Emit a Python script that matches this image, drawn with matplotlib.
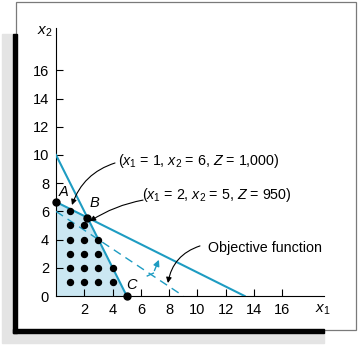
import numpy as np
import matplotlib
matplotlib.use("Agg")
import matplotlib.pyplot as plt
from matplotlib.patches import Rectangle

plt.rcParams['font.family'] = ['Liberation Sans', 'DejaVu Sans']
plt.rcParams['mathtext.fontset'] = 'custom'
plt.rcParams['mathtext.rm'] = 'Liberation Sans'
plt.rcParams['mathtext.it'] = 'Liberation Sans:italic'

# constraint lines: 2x1 + x2 = 10 and x1 + 2x2 = 13.33
c1_x = [0, 5]
c1_y = [10, 0]
c2_x = [0, 13.33]
c2_y = [6.67, 0]
# objective function Z = 100x1 + 150x2 at Z = 900
obj_x = [0, 9]
obj_y = [6, 0]
# feasible region corners
region_x = [0, 0, 2.22, 5]
region_y = [0, 6.67, 5.56, 0]
# integer solution points
pts_x = [1, 1, 1, 1, 1, 1, 2, 2, 2, 2, 2, 3, 3, 3, 3, 4, 4]
pts_y = [1, 2, 3, 4, 5, 6, 1, 2, 3, 4, 5, 1, 2, 3, 4, 1, 2]
# corner points A, B, C
corner_x = [0, 2.22, 5]
corner_y = [6.67, 5.56, 0]
ticks = [2, 4, 6, 8, 10, 12, 14, 16]

blue = '#1e9cc2'
W, H = 360, 347
fig = plt.figure(figsize=(W / 100, H / 100), dpi=100)

def frect(x0, y0, x1, y1, **kw):
    # rectangle given in pixel coords measured from the top left
    fig.patches.append(Rectangle((x0 / W, 1 - y1 / H), (x1 - x0) / W, (y1 - y0) / H,
                                 transform=fig.transFigure, **kw))

frect(2, 34, 324, 343, color='#e4e4e4', zorder=0)
frect(16, 2, 356, 330, facecolor='white', edgecolor='#7a7a7a', lw=0.9, zorder=1)
frect(13, 34, 17, 333, color='black', zorder=2)
frect(13, 329, 324, 333, color='black', zorder=2)

ax = fig.add_axes([56 / W, 1 - 296 / H, (324 - 56) / W, (296 - 28) / H])
ax.set_zorder(5)
ax.patch.set_alpha(0)
ax.set_xlim(0, 18.94)
ax.set_ylim(0, 19.0)
for s in ['top', 'right']:
    ax.spines[s].set_visible(False)
for s in ['left', 'bottom']:
    ax.spines[s].set_linewidth(0.8)

ax.set_xticks(ticks)
ax.set_yticks([0] + ticks)
ax.tick_params(direction='in', length=5, width=0.8, labelsize=10.5, pad=5)
ax.yaxis.get_major_ticks()[0].tick1line.set_visible(False)

ax.fill(region_x, region_y, color='#cbe7f2', lw=0, zorder=1)
ax.plot(c1_x, c1_y, color=blue, lw=1.5, zorder=3)
ax.plot(c2_x, c2_y, color=blue, lw=1.5, zorder=3)
ax.plot(obj_x, obj_y, color=blue, lw=1.0, dashes=(6, 4), zorder=3)

ax.plot(pts_x, pts_y, 'o', color='black', ms=4.3, zorder=4)
ax.plot(corner_x, corner_y, 'o', color='black', ms=5, zorder=5, clip_on=False)

# direction of increasing Z
ax.plot([6.45, 6.88], [1.42, 1.62], color=blue, lw=1.0, zorder=3)
ax.annotate('', xy=(7.35, 2.75), xytext=(6.88, 1.62),
            arrowprops=dict(arrowstyle='-|>', color=blue, lw=1.0, mutation_scale=9))

ax.text(0.57, 7.38, 'A', fontsize=10.5, style='italic', ha='center', va='center')
ax.text(2.69, 6.6, 'B', fontsize=10.5, style='italic', ha='center', va='center')
ax.text(5.34, 0.78, 'C', fontsize=10.5, style='italic', ha='center', va='center')

ax.text(4.38, 9.57, '($x_1$ = 1, $x_2$ = 6, $Z$ = 1,000)', fontsize=10.3, va='center')
ax.text(6.08, 7.16, '($x_1$ = 2, $x_2$ = 5, $Z$ = 950)', fontsize=10.3, va='center')
ax.text(10.74, 3.4, 'Objective function', fontsize=10.3, va='center')

arrow = dict(arrowstyle='-|>', color='black', lw=0.8, mutation_scale=8, shrinkA=0, shrinkB=0)
ax.annotate('', xy=(1.13, 6.45), xytext=(4.17, 9.43),
            arrowprops=dict(connectionstyle='arc3,rad=0.25', **arrow))
ax.annotate('', xy=(2.4, 5.3), xytext=(6.15, 6.8),
            arrowprops=dict(connectionstyle='arc3,rad=0.1', **arrow))
ax.annotate('', xy=(7.91, 0.92), xytext=(10.175, 3.55),
            arrowprops=dict(connectionstyle='arc3,rad=0.3', **arrow))

ax.text(-0.78, 18.72, '$x_2$', fontsize=11, ha='center', va='center', clip_on=False)
ax.text(18.87, -1.0, '$x_1$', fontsize=11, ha='center', va='center', clip_on=False)

fig.savefig('out.png', dpi=100)
